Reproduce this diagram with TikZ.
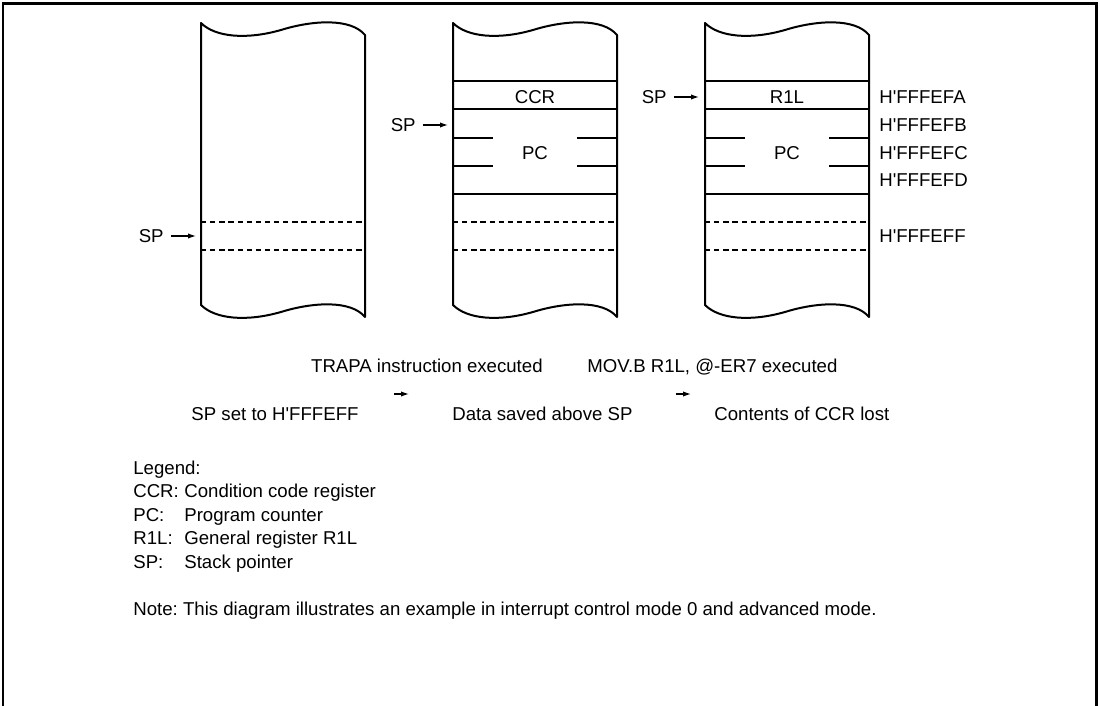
\documentclass[tikz,border=0pt]{standalone}
\usepackage{fontspec}
\setmainfont{Liberation Sans}
\usepackage{tikz}
\usetikzlibrary{arrows.meta}
\tikzset{
  wall/.style={line width=0.04cm,line join=round},
  cellline/.style={line width=0.04cm},
  cutline/.style={line width=0.6pt,dash pattern=on 3pt off 2.2pt},
  ptr/.style={-{Latex[length=4.5pt,width=3pt]},line width=0.7pt},
  txt/.style={inner sep=0pt,text height=7.6pt,text depth=0pt,font=\fontsize{10.6}{12}\selectfont\frenchspacing},
}
\newcommand{\hx}{H\textquotesingle}

\begin{document}
\begin{tikzpicture}[x=0.02cm,y=-0.02cm]
\useasboundingbox (0,0) rectangle (1100,706);
% frame, open at the bottom
\draw[line width=0.06cm] (3,706) -- (3,3.5) -- (1096.5,3.5) -- (1096.5,706);
% three stack columns with torn top and bottom
\foreach \x in {201,453,705}{
  \draw[wall] (\x,23) .. controls (\x+14,37) and (\x+45,40) .. (\x+80,30)
     .. controls (\x+112,20) and (\x+150,18) .. (\x+164,35) -- (\x+164,317)
     .. controls (\x+150,300) and (\x+112,302) .. (\x+80,312)
     .. controls (\x+45,322) and (\x+14,319) .. (\x,305) -- cycle;
  \draw[cutline] (\x,222) -- (\x+164,222);
  \draw[cutline] (\x,250) -- (\x+164,250);
}
% saved cells after TRAPA / MOV.B
\foreach \x in {453,705}{
  \foreach \y in {81,109,194}
    \draw[cellline] (\x,\y) -- (\x+164,\y);
  \foreach \y in {138,166}{
    \draw[cellline] (\x,\y) -- (\x+40,\y);
    \draw[cellline] (\x+124,\y) -- (\x+164,\y);
  }
}
\node[txt] (ccr) at (535,97){CCR};
\node[txt] (pcmid) at (535,153){PC};
\node[txt] (r1l) at (787,97){R1L};
\node[txt] (pcright) at (787,153){PC};
% stack pointers
\node[txt,anchor=east] (spa) at (164,236){SP};
\node[txt,anchor=east] (spb) at (416,125){SP};
\node[txt,anchor=east] (spc) at (667,97){SP};
\coordinate (spat) at (196,236);
\coordinate (spbt) at (448,125);
\coordinate (spct) at (699,97);
\draw[ptr] ([xshift=4pt]spa.east) -- (spat);
\draw[ptr] ([xshift=4pt]spb.east) -- (spbt);
\draw[ptr] ([xshift=4pt]spc.east) -- (spct);
% addresses
\foreach \a/\y in {FA/97,FB/125,FC/153,FD/180,FF/236}
  \node[txt,anchor=west] (adr\a) at (879,\y){\hx FFFE\a};
% steps
\node[txt,anchor=east] (trapa) at (543,366){TRAPA instruction executed};
\node[txt,anchor=west] (movb) at (587,366){MOV.B R1L, @-ER7 executed};
\node[txt] (stepa) at (275,414){SP set to \hx FFFEFF};
\node[txt,anchor=west] (stepb) at (452,414){Data saved above SP};
\node[txt,anchor=west] (stepc) at (714,414){Contents of CCR lost};
\coordinate (goa) at (394,394);
\coordinate (goat) at (409,394);
\coordinate (gob) at (676,394);
\coordinate (gobt) at (691,394);
\draw[ptr] (goa) -- (goat);
\draw[ptr] (gob) -- (gobt);
% legend
\node[txt,anchor=west] (leg) at (133,468){Legend:};
\foreach \k/\d/\y in {CCR:/Condition code register/491,PC:/Program counter/515,R1L:/General register R1L/538,SP:/Stack pointer/562}{
  \node[txt,anchor=west] (key\y) at (133,\y){\k};
  \node[txt,anchor=west] (desc\y) at (184,\y){\d};
}
\node[txt,anchor=west] (note) at (133,609){Note: This diagram illustrates an example in interrupt control mode 0 and advanced mode.};
\end{tikzpicture}
\end{document}
